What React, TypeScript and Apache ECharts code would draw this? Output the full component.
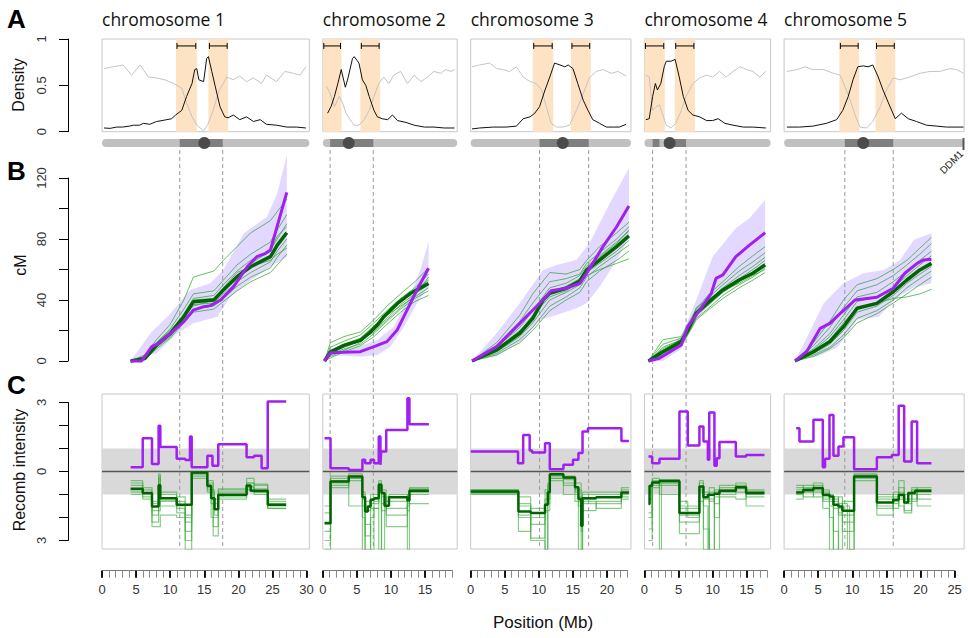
import React, { useEffect, useRef } from "react";
import * as echarts from "echarts";

// ---------- data ----------
const chromosomeNames = ["chromosome 1", "chromosome 2", "chromosome 3", "chromosome 4", "chromosome 5"];
const chromosomeLengthMb = [30.4, 19.7, 23.5, 18.5, 26.4];
const positionAxisMaxMb = [30, 19, 23, 18, 25];

// A: density along each chromosome (black = pericentromeric feature, grey = complementary)
const densityHigh = [
  [[0.3,0.04],[1.2,0.036],[2.15,0.05],[3.0,0.05],[4.0,0.06],[4.6,0.07],[5.5,0.07],[6.06,0.09],[7.0,0.08],[8.0,0.11],[8.8,0.12],[9.5,0.13],[10.2,0.14],[10.8,0.18],[11.7,0.23],[12.4,0.38],[13.2,0.52],[13.6,0.67],[13.9,0.68],[14.2,0.56],[14.9,0.54],[15.35,0.79],[15.6,0.81],[16.1,0.65],[16.6,0.49],[17.3,0.27],[18.0,0.16],[18.5,0.15],[19.25,0.18],[20.2,0.13],[21.2,0.16],[22.2,0.11],[23.2,0.13],[24.1,0.08],[25.6,0.07],[27.1,0.05],[28.5,0.05],[29.9,0.04]],
  [[0.7,0.2],[1.2,0.27],[1.7,0.38],[2.2,0.52],[2.7,0.67],[3.3,0.48],[3.7,0.58],[4.35,0.79],[4.6,0.81],[5.0,0.77],[5.3,0.74],[5.8,0.56],[6.3,0.5],[6.8,0.38],[7.5,0.23],[8.0,0.16],[8.7,0.14],[9.5,0.13],[10.2,0.18],[10.95,0.12],[12.2,0.1],[13.4,0.07],[14.9,0.05],[16.3,0.05],[17.8,0.04],[19.3,0.04]],
  [[0.2,0.03],[1.3,0.04],[3.3,0.05],[5.2,0.05],[6.7,0.06],[7.7,0.14],[8.7,0.16],[9.4,0.2],[10.1,0.27],[10.9,0.45],[11.6,0.59],[12.3,0.74],[13.1,0.72],[13.8,0.7],[14.3,0.72],[15.0,0.68],[15.7,0.52],[16.5,0.34],[17.2,0.23],[17.9,0.13],[18.9,0.09],[19.9,0.05],[20.9,0.05],[21.8,0.05],[22.8,0.08]],
  [[0.2,0.13],[0.7,0.14],[1.2,0.38],[1.6,0.52],[1.9,0.45],[2.4,0.52],[2.9,0.7],[3.2,0.76],[3.9,0.76],[4.5,0.78],[5.1,0.59],[5.7,0.38],[6.4,0.23],[7.1,0.18],[8.1,0.16],[9.1,0.12],[10.0,0.12],[10.8,0.14],[11.8,0.09],[13.0,0.07],[14.5,0.05],[15.9,0.05],[17.8,0.04]],
  [[0.4,0.05],[2.3,0.05],[4.2,0.06],[6.2,0.09],[7.7,0.13],[8.6,0.23],[9.4,0.38],[10.1,0.56],[10.8,0.7],[11.6,0.71],[12.3,0.7],[13.0,0.72],[13.8,0.59],[14.5,0.45],[15.3,0.31],[16.3,0.14],[17.2,0.2],[18.2,0.14],[19.4,0.11],[20.9,0.07],[22.4,0.06],[23.8,0.05],[26.3,0.05]],
];
const densityLow = [
  [[0.3,0.68],[1.6,0.7],[3.1,0.72],[4.35,0.61],[5.6,0.72],[6.8,0.59],[8.0,0.58],[9.2,0.56],[10.5,0.52],[11.7,0.47],[12.4,0.31],[13.2,0.16],[13.9,0.07],[14.9,0.01],[15.6,0.09],[16.3,0.23],[17.1,0.43],[18.3,0.59],[19.25,0.56],[20.2,0.6],[21.2,0.54],[22.2,0.58],[23.4,0.52],[24.1,0.61],[25.6,0.54],[26.8,0.65],[28.1,0.63],[29.0,0.61],[29.9,0.7]],
  [[0.5,0.49],[1.0,0.43],[1.7,0.27],[2.4,0.38],[2.9,0.31],[3.4,0.2],[4.0,0.13],[4.6,0.07],[5.3,0.07],[6.06,0.13],[6.8,0.23],[7.5,0.38],[8.2,0.52],[8.9,0.59],[9.7,0.52],[10.4,0.61],[11.4,0.65],[12.4,0.52],[13.4,0.61],[14.4,0.54],[15.35,0.59],[16.3,0.65],[17.3,0.63],[18.0,0.67],[18.8,0.65],[19.3,0.67]],
  [[0.2,0.7],[1.3,0.72],[2.8,0.74],[3.8,0.68],[4.7,0.67],[5.7,0.65],[6.7,0.7],[7.7,0.59],[8.7,0.54],[9.6,0.52],[10.4,0.45],[11.1,0.27],[11.8,0.09],[12.6,0.05],[13.5,0.05],[14.5,0.07],[15.5,0.23],[16.5,0.41],[17.4,0.58],[18.4,0.65],[19.4,0.67],[20.6,0.63],[21.6,0.65],[22.8,0.6]],
  [[0.2,0.61],[0.7,0.59],[1.2,0.23],[1.7,0.27],[2.2,0.29],[2.7,0.18],[3.2,0.07],[3.9,0.04],[4.6,0.09],[5.4,0.23],[6.1,0.38],[7.1,0.52],[8.1,0.58],[9.1,0.61],[10.0,0.59],[11.0,0.65],[12.0,0.59],[13.0,0.65],[14.0,0.7],[15.0,0.67],[15.9,0.65],[16.9,0.59],[17.8,0.65]],
  [[0.4,0.65],[1.9,0.67],[3.1,0.7],[4.2,0.67],[5.8,0.67],[7.2,0.63],[8.2,0.61],[8.9,0.49],[9.7,0.34],[10.4,0.18],[11.1,0.05],[12.1,0.04],[13.0,0.11],[14.1,0.27],[15.0,0.45],[16.0,0.58],[17.0,0.56],[18.4,0.59],[19.9,0.63],[21.4,0.65],[22.8,0.65],[24.3,0.68],[25.3,0.67],[26.3,0.63]],
];
// transition intervals flanking each pericentromere (Mb)
const borderIntervals = [
  [[10.85,13.9],[15.6,18.5]],
  [[0,2.74],[5.5,8.4]],
  [[9.1,12.1],[14.7,17.6]],
  [[0,2.98],[4.44,7.4]],
  [[8.1,11.0],[13.4,16.3]],
];
// ideogram: pericentromeric blocks and centromere position (Mb)
const pericentromere = [
  [[11.4,17.7]],
  [[1.07,7.4]],
  [[10.1,17.3]],
  [[1.2,2.2],[2.9,6.1]],
  [[8.9,16.0]],
];
const centromere = [15.0, 3.8, 13.5, 3.7, 11.6];
const ddm1Position = 26.3; // chromosome 5

// B: genetic map (cM) against physical position (Mb)
const purpleMap = [
  [[4.2,0],[5.8,0],[7.3,9.4],[8.3,11.6],[10,18],[12,25.8],[13.4,33.4],[14.9,35.6],[15.9,36.3],[17.4,40],[19.3,48.7],[21.3,61.8],[22.7,68.4],[24,70.6],[24.7,72.8],[27.1,110.6]],
  [[0.25,0],[1.1,5.4],[3.1,5.7],[5.5,6.1],[7.5,9.4],[9.4,12.7],[10.9,20.3],[12.6,35.6],[13.8,46.6],[15.5,60.8]],
  [[0.2,0],[3.8,9.4],[7.2,24.7],[8.65,31.3],[10.6,40],[11.8,46.1],[14.0,47.7],[16.0,50.9],[17.0,57.5],[19.4,75],[21.4,88],[23.2,101.6]],
  [[0.6,0],[2.2,1.8],[5.4,10.5],[6.35,22.5],[8.1,33.4],[9.8,44.4],[10.5,54.2],[11.5,56.4],[13.4,68.4],[15.4,76],[17.7,84.1]],
  [[1.6,0],[3.3,6.1],[5.3,21.4],[6.7,24.7],[8.0,30.2],[10.4,40],[13.6,41.8],[16.0,47.7],[17.7,57.5],[19.5,64],[20.4,66.2],[21.6,66.7]],
];
const greenMean = [
  [[4.2,0],[6.3,1.7],[8.0,10.5],[10,18],[12,29],[13.4,38.9],[16.4,40],[17.8,46.6],[19.8,55.3],[21.8,61.8],[24.7,68.4],[25.7,76],[27.1,84.1]],
  [[0.25,0],[1.1,5.9],[3.1,10.2],[5.5,13.5],[6.7,17.9],[7.95,23.4],[8.9,28.8],[10.9,37.6],[12.8,44.2],[15.5,50.8]],
  [[0.2,0],[3.8,7.2],[7.2,18.2],[9.1,28],[10.6,40],[11.6,44.4],[14.0,47.7],[16.0,52.5],[17.0,59.5],[18.9,66.2],[21.4,75],[23.2,82]],
  [[0.6,0],[2.7,6.1],[5.4,12.7],[6.35,20],[7.6,31.3],[9.5,38.9],[11.5,46.6],[13.9,53.1],[15.9,57.5],[17.7,63]],
  [[1.6,0],[4.3,6.1],[6.7,12.7],[8.7,22.5],[10.7,34.6],[13.6,37.8],[16.0,45.4],[18.0,53.1],[19.9,59.7],[21.6,64]],
];
const bandUpper = [
  [[4.2,0],[7.1,18],[10,31],[12.9,46.5],[15.9,51],[17.8,59.7],[20.8,83.7],[24.2,94.6],[25.7,110],[27.1,135]],
  [[0.25,0],[1.1,7],[3.1,8],[5.5,10],[8.0,13.8],[10.4,22.5],[12.9,44.4],[14.3,59.7],[15.5,78.2]],
  [[0.2,0],[3.8,18.2],[7.2,37.8],[10.6,59.7],[12.6,63],[15.5,66.2],[17.4,77.2],[20.4,103.4],[23.2,126.4]],
  [[0.6,0],[2.7,5],[5.4,16],[7.6,40],[10.0,68.4],[13.4,87],[15.4,93.6],[17.7,105.6]],
  [[1.6,0],[3.3,15],[5.8,37.8],[8.7,51],[11.6,57.5],[14.6,59.7],[17.0,66.2],[19.0,79.3],[21.6,83.7]],
];
const bandLower = [
  [[4.2,0],[8,5],[11,18],[13.4,24.7],[16.9,29],[18.8,42],[21.8,53],[24.7,61.8],[27.1,68.4]],
  [[0.25,0],[1.1,3.5],[3.1,3.5],[5.5,2.8],[8.0,3.9],[9.9,9.4],[11.9,22.5],[13.8,37.8],[15.5,48.7]],
  [[0.2,0],[3.8,3],[7.7,13.8],[10.1,26.9],[12.6,30.2],[15.5,34.6],[17,37.8],[18.9,48.7],[21.4,66],[23.2,81]],
  [[0.6,0],[2.7,0],[5.4,8],[7.6,27],[10.0,40],[12.7,48.5],[14.9,56.4],[17.7,62]],
  [[1.6,0],[4.8,3],[7.8,8.9],[10.7,27],[13.9,29],[16.3,41],[19.0,48],[21.6,51]],
];
// individual maps: shared marker positions (Mb) and cM per map
const lineMarkersMb = [
  [4.2, 6.3, 8.0, 10.0, 12.0, 13.4, 16.4, 17.8, 19.8, 21.8, 24.7, 25.7, 27.1],
  [0.25, 1.1, 3.1, 5.5, 7.5, 9.4, 11.4, 13.5, 15.5],
  [0.2, 3.8, 7.2, 9.1, 11.6, 14.0, 16.0, 17.0, 18.9, 21.4, 23.2],
  [0.6, 2.7, 5.4, 6.35, 7.6, 9.5, 11.5, 13.9, 15.9, 17.7],
  [1.6, 4.3, 6.7, 8.7, 10.7, 13.6, 16.0, 18.0, 19.9, 21.6],
];
const lineMapsCm = [
  [
    [0,4,14,24,40,55,59,66,75,84,92,98,106],
    [0,3,12,21,34,44,46,53,63,70,78,86,96],
    [0,2,11,19,31,41,43,50,59,66,73,80,90],
    [0,1,10,17,28,37,38,44,52,58,65,72,80],
    [0,2,9,16,26,34,36,41,49,55,61,68,76],
    [0,1,8,15,25,32,34,39,46,52,58,63,70],
    [0,3,12,20,30,40,41,47,56,64,72,82,88],
    [0,2,10,18,30,36,40,48,58,62,66,70,74],
  ],
  [
    [0,12,16,19,27,36,44,52,61],
    [0,9,13,17,25,33,41,48,57],
    [0,7,11,15,23,31,40,46,53],
    [0,5,9,13,20,28,37,44,50],
    [0,4,8,11,18,26,34,41,46],
    [0,2,6,10,16,24,32,39,43],
    [0,3,7,12,21,30,36,42,48],
    [0,6,10,14,19,27,35,43,55],
  ],
  [
    [0,12,30,44,58,57,60,66,75,84,91],
    [0,10,26,38,52,54,57,64,71,80,88],
    [0,9,22,33,48,51,56,62,69,78,85],
    [0,6,16,25,40,45,50,58,64,72,79],
    [0,5,14,22,36,42,48,55,62,70,76],
    [0,4,12,20,33,40,45,52,59,66,72],
    [0,7,19,30,42,46,52,56,60,64,67],
    [0,8,20,27,45,49,54,61,68,77,86],
  ],
  [
    [0,14,16,24,34,44,52,62,69,75],
    [0,11,15,22,33,42,50,59,65,71],
    [0,9,14,21,32,40,48,56,62,68],
    [0,7,12,19,30,37,45,52,58,64],
    [0,5,11,18,28,35,43,50,55,61],
    [0,3,10,17,27,34,41,48,53,58],
    [0,8,14,20,31,39,47,54,60,66],
    [0,4,12,20,35,41,46,51,56,60],
  ],
  [
    [0,12,26,40,50,54,60,66,74,81],
    [0,10,22,35,46,50,56,63,70,77],
    [0,8,18,30,42,45,52,59,66,72],
    [0,5,11,20,32,36,43,51,57,62],
    [0,4,9,17,28,33,40,48,54,59],
    [0,3,8,15,25,31,38,44,50,55],
    [0,6,14,25,35,38,41,42,44,47],
    [0,7,16,27,39,42,48,56,63,69],
  ],
];

// C: recombination intensity steps [start Mb, value]; last entry closes the final step
const recPurple = [
  [[4.2,0.19],[5.97,1.45],[7.33,0.33],[8.3,1.99],[8.55,1.06],[10.95,0.55],[12.2,0.5],[12.9,1.52],[13.15,0.19],[15.45,0.68],[16.2,0.25],[17.05,1.19],[21.2,0.62],[22.3,0.68],[23.4,0.14],[24.3,3.04],[27.0,3.04]],
  [[0.25,1.45],[1.13,0.14],[3.8,0.07],[5.8,0.51],[6.2,0.36],[7.0,0.51],[7.5,0.36],[8.2,1.52],[8.45,0.29],[8.55,0.87],[9.3,1.81],[12.4,3.19],[12.7,2.06],[15.55,2.06]],
  [[0.0,0.87],[6.94,0.36],[7.7,1.59],[8.65,0.91],[9.0,0.83],[10.9,1.23],[11.6,0.1],[13.6,0.29],[15.0,0.51],[15.8,0.8],[16.4,1.74],[17.2,1.88],[22.1,1.33],[23.2,1.33]],
  [[0.59,0.65],[1.13,0.36],[2.2,0.55],[5.13,2.61],[6.35,1.13],[8.06,1.96],[8.65,1.3],[9.3,0.51],[9.5,2.57],[10.26,0.25],[10.6,0.58],[11.0,1.28],[13.4,0.65],[14.9,0.72],[17.6,0.72]],
  [[1.76,1.88],[2.25,1.3],[4.3,2.25],[5.67,0.19],[6.0,0.55],[6.65,2.46],[7.23,0.68],[7.97,1.09],[8.7,1.49],[10.26,0.1],[13.6,0.62],[15.8,0.72],[16.8,2.86],[17.6,0.43],[18.7,2.17],[19.5,0.36],[21.6,0.36]],
];
const recGreenMean = [
  [[4.2,0.75],[5.97,0.94],[7.33,1.52],[8.3,0.6],[8.55,1.16],[10.95,1.45],[13.15,0.04],[15.45,0.62],[16.0,1.16],[16.5,1.64],[17.05,1.01],[21.2,0.61],[21.8,0.84],[24.3,1.45],[27.0,1.45]],
  [[0.25,2.25],[1.13,0.43],[3.8,0.22],[5.8,1.12],[6.2,1.74],[6.6,1.52],[7.0,1.23],[7.5,1.16],[8.2,0.58],[8.6,0.94],[9.05,1.49],[9.7,1.12],[12.4,1.26],[12.7,0.84],[15.55,0.84]],
  [[0,0.87],[7.0,1.74],[8.8,1.81],[10.9,1.45],[11.3,0.9],[11.6,0.12],[13.6,0.26],[15.3,0.68],[15.8,1.2],[16.2,2.36],[16.4,1.16],[18.4,1.12],[22.1,0.91],[23.2,0.91]],
  [[0.59,1.41],[0.75,0.62],[1.13,0.48],[2.2,0.41],[5.13,1.81],[8.06,0.65],[8.65,1.12],[9.3,1.01],[10.26,0.97],[11.0,0.84],[13.4,0.68],[14.9,0.94],[17.6,0.94]],
  [[1.76,0.91],[2.8,0.8],[4.3,0.72],[5.67,1.01],[6.65,1.09],[7.23,1.45],[7.97,1.52],[8.55,1.71],[10.26,0.22],[13.6,1.35],[16.0,1.23],[16.8,1.01],[17.6,1.35],[18.2,0.94],[19.2,0.84],[21.6,0.84]],
];
const recGreenMaps = [
  [
    [[4.2,0.5],[5.97,0.7],[7.33,1.9],[8.3,0.1],[8.55,1.0],[10.95,1.3],[12.2,3.4],[13.15,0.1],[15.45,0.5],[16.3,2.8],[17.05,0.8],[21.2,0.3],[22.3,0.6],[24.3,1.3],[27.0,1.3]],
    [[4.2,0.9],[5.97,1.0],[7.33,2.4],[8.55,1.9],[10.95,2.0],[12.2,2.6],[13.15,0.2],[15.45,0.9],[16.5,1.9],[17.05,1.1],[21.2,0.8],[22.3,0.9],[24.3,1.6],[27.0,1.6]],
    [[4.2,0.6],[5.97,1.2],[7.33,1.3],[8.3,0.3],[8.55,1.5],[10.95,1.6],[12.2,1.9],[13.15,0.0],[15.45,0.7],[16.0,1.4],[17.05,0.9],[21.2,0.5],[22.3,0.75],[24.3,1.2],[27.0,1.2]],
    [[4.2,1.0],[5.97,1.1],[7.33,1.7],[8.55,1.3],[10.95,1.8],[12.2,2.2],[13.15,0.3],[15.45,0.8],[16.5,1.2],[17.05,1.2],[21.2,0.7],[22.3,1.0],[24.3,1.6],[27.0,1.6]],
    [[4.2,0.4],[5.97,0.8],[7.33,2.2],[8.3,0.2],[8.55,0.9],[10.95,1.1],[12.2,3.0],[13.15,0.1],[15.45,0.4],[16.3,2.4],[17.05,0.75],[21.2,0.5],[22.3,0.55],[24.3,1.4],[27.0,1.4]],
    [[4.2,0.8],[5.97,0.95],[7.33,1.4],[8.55,1.25],[10.95,1.5],[12.2,2.0],[13.15,0.05],[15.45,0.6],[16.0,2.0],[17.05,1.0],[21.2,0.65],[22.3,0.9],[24.3,1.5],[27.0,1.5]],
  ],
  [
    [[0.25,3.4],[1.13,0.3],[3.8,0.2],[5.8,3.4],[6.2,1.5],[7.0,1.6],[8.2,3.4],[8.6,1.0],[9.3,1.6],[12.4,1.2],[12.7,0.8],[15.55,0.8]],
    [[0.25,2.6],[1.13,0.5],[3.8,0.3],[5.8,1.5],[6.2,2.3],[7.0,3.4],[7.5,1.3],[8.2,0.7],[8.6,1.4],[9.3,1.9],[12.4,1.5],[12.7,0.9],[15.55,0.9]],
    [[0.25,1.8],[1.13,0.6],[3.8,0.1],[5.8,1.0],[6.2,1.7],[7.0,1.2],[8.2,0.5],[8.6,3.4],[9.05,1.3],[9.7,1.0],[12.4,3.4],[12.7,0.75],[15.55,0.75]],
    [[0.25,3.0],[1.13,0.4],[3.8,1.5],[5.8,1.2],[6.2,2.8],[7.0,1.4],[8.2,0.8],[8.6,1.1],[9.3,2.4],[12.4,1.4],[12.7,1.4],[15.55,1.4]],
    [[0.25,2.2],[1.13,0.2],[3.8,0.3],[5.8,2.0],[6.2,3.4],[7.0,2.0],[7.5,1.6],[8.2,0.4],[8.6,1.7],[9.3,1.1],[12.4,1.7],[12.7,1.0],[15.55,1.0]],
    [[0.25,1.5],[1.13,0.7],[3.8,0.4],[5.8,0.9],[6.2,1.3],[7.0,1.0],[8.2,0.6],[8.6,0.8],[9.3,1.3],[12.4,1.0],[12.7,0.7],[15.55,0.7]],
  ],
  [
    [[0,0.8],[7.0,1.4],[8.8,2.9],[10.9,1.2],[11.6,0.1],[13.6,0.3],[15.3,0.9],[15.8,3.4],[16.4,1.0],[18.4,1.0],[22.1,0.8],[23.2,0.8]],
    [[0,0.95],[7.0,2.0],[8.8,1.6],[10.9,3.4],[11.3,0.5],[11.6,0.3],[13.6,0.5],[15.3,1.0],[15.8,1.5],[16.4,1.4],[18.4,1.3],[22.1,1.1],[23.2,1.1]],
    [[0,0.85],[7.0,1.1],[8.8,2.3],[10.9,1.7],[11.6,0.2],[13.6,0.2],[15.3,0.5],[16.2,3.4],[16.4,0.9],[18.4,0.9],[22.1,1.2],[23.2,1.2]],
    [[0,0.9],[7.0,2.6],[8.8,2.0],[10.9,0.8],[11.6,0.4],[13.6,1.0],[15.3,1.3],[16.4,1.7],[18.4,1.4],[22.1,0.7],[23.2,0.7]],
    [[0,0.8],[7.0,1.5],[8.8,1.8],[10.9,1.4],[11.6,0.15],[13.6,0.35],[15.3,0.7],[15.8,1.1],[16.4,1.2],[18.4,1.1],[22.1,0.95],[23.2,0.95]],
    [[0,1.0],[7.0,1.9],[8.8,3.0],[10.9,3.4],[11.3,0.6],[11.6,0.3],[13.6,0.6],[15.3,0.8],[16.2,2.6],[16.4,1.3],[18.4,1.6],[22.1,1.0],[23.2,1.0]],
  ],
  [
    [[0.59,2.5],[1.13,0.3],[2.2,3.4],[2.5,0.5],[5.13,1.6],[8.06,0.7],[8.65,3.4],[9.5,0.9],[10.26,3.4],[11.0,0.8],[13.4,0.6],[14.9,0.9],[17.6,0.9]],
    [[0.59,1.8],[1.13,0.6],[2.2,0.4],[5.13,2.7],[8.06,0.4],[8.65,1.5],[9.3,3.4],[9.5,1.2],[10.26,1.1],[11.0,1.0],[13.4,0.75],[14.9,1.5],[17.6,1.5]],
    [[0.59,3.0],[1.13,0.5],[2.2,0.6],[5.13,1.3],[6.35,2.0],[8.06,1.3],[8.65,1.0],[9.5,0.7],[10.26,1.4],[11.0,0.7],[13.4,0.9],[14.9,1.0],[17.6,1.0]],
    [[0.59,1.2],[1.13,0.4],[2.2,0.35],[5.13,2.2],[8.06,0.9],[8.65,2.5],[9.5,3.4],[10.26,0.9],[11.0,0.9],[13.4,0.5],[14.9,0.8],[17.6,0.8]],
    [[0.59,2.0],[1.13,0.7],[2.2,0.5],[5.13,1.9],[8.06,0.5],[8.65,1.2],[9.5,1.0],[10.26,2.0],[11.0,1.1],[13.4,1.2],[14.9,0.85],[17.6,0.85]],
    [[0.59,0.9],[1.13,0.45],[2.2,1.0],[5.13,1.5],[8.06,0.8],[8.65,0.9],[9.5,1.3],[10.26,0.8],[11.0,0.6],[13.4,0.7],[14.9,1.1],[17.6,1.1]],
  ],
  [
    [[1.76,0.6],[2.8,0.7],[4.3,0.5],[5.67,1.3],[6.65,3.4],[7.23,1.2],[7.97,1.8],[8.55,2.2],[10.26,0.4],[13.6,1.9],[16.0,1.1],[16.8,0.4],[17.6,1.4],[18.7,0.8],[19.5,1.5],[21.6,1.5]],
    [[1.76,1.2],[2.8,0.9],[4.3,1.1],[5.67,0.8],[6.65,1.5],[7.23,2.6],[7.97,3.4],[8.55,1.4],[9.28,3.4],[10.26,0.2],[13.6,1.1],[16.0,1.6],[16.8,0.9],[17.6,1.8],[18.7,1.3],[19.5,0.7],[21.6,0.7]],
    [[1.76,0.8],[2.8,0.6],[4.3,0.9],[5.67,1.2],[6.65,1.0],[7.23,1.3],[7.97,1.4],[8.55,1.9],[10.26,0.3],[13.6,1.5],[16.0,1.4],[16.8,1.2],[17.6,1.0],[18.7,1.2],[19.5,1.0],[21.6,1.0]],
    [[1.76,1.0],[2.8,1.1],[4.3,0.7],[5.67,1.6],[6.65,2.0],[7.23,3.4],[7.97,1.1],[8.55,2.6],[10.26,0.1],[13.6,1.0],[16.0,0.9],[16.8,1.5],[17.6,1.7],[18.7,1.0],[19.5,0.8],[21.6,0.8]],
    [[1.76,0.7],[2.8,0.75],[4.3,0.6],[5.67,0.9],[6.65,1.2],[7.23,1.1],[7.97,1.6],[8.55,1.5],[9.6,3.4],[10.26,0.25],[13.6,1.2],[16.0,1.3],[16.8,0.7],[17.6,1.2],[18.7,0.9],[19.5,0.9],[21.6,0.9]],
    [[1.76,0.9],[2.8,0.85],[4.3,0.8],[5.67,1.1],[6.65,1.3],[7.23,1.6],[7.97,1.9],[8.55,1.3],[10.26,0.15],[13.6,1.6],[16.0,1.0],[16.8,1.1],[17.6,1.3],[18.7,0.7],[19.5,1.2],[21.6,1.2]],
  ],
];

const densityTicks = [0, 0.5, 1];
const cmTicks = [0, 40, 80, 120];
const recTicks = [-3, 0, 3];

// ---------- layout & style ----------
const MB_PX = 6.82;
const PANEL_GAP = 13.5;
const FIRST_LEFT = 102;
const AXIS_X = 68;
const SANS = '"Liberation Sans", Arial, sans-serif';
const TITLE_FONT = '"Open Sans", "Liberation Sans", sans-serif';
const PURPLE = "#A020F0";
const DARKGREEN = "#006400";

const panelLeft: number[] = [];
chromosomeLengthMb.reduce((x, len, i) => {
  panelLeft[i] = x;
  return x + len * MB_PX + PANEL_GAP;
}, FIRST_LEFT);

function buildOption() {
  const grid: any[] = [];
  const xAxis: any[] = [];
  const yAxis: any[] = [];
  const series: any[] = [];
  const graphic: any[] = [];

  const addGrid = (g: any, xa: any, ya: any) => {
    const gi = grid.length;
    grid.push({ containLabel: false, outerBoundsMode: "none", ...g });
    const xi = xAxis.length;
    xAxis.push({ type: "value", gridIndex: gi, splitLine: { show: false }, ...xa });
    const yi = yAxis.length;
    yAxis.push({ type: "value", gridIndex: gi, splitLine: { show: false }, ...ya });
    return { gi, xi, yi };
  };

  const leftAxis = (top: number, height: number, min: number, max: number, interval: number, labelled: number[], fmt: (v: number) => string) =>
    addGrid(
      { left: AXIS_X, top, width: 10, height },
      { show: false, min: 0, max: 1 },
      {
        min, max, interval, position: "left",
        axisLine: { show: true, onZero: false, lineStyle: { color: "#000", width: 1 } },
        axisTick: { show: true, length: 9, lineStyle: { color: "#000", width: 1 } },
        axisLabel: {
          show: true, rotate: 90, margin: 20, fontSize: 13, color: "#333", fontFamily: SANS,
          formatter: (v: number) => (labelled.some((t) => Math.abs(t - v) < 1e-9) ? fmt(v) : ""),
        },
      }
    );
  leftAxis(39, 92.7, 0, 1, 0.5, densityTicks, (v) => String(v));
  leftAxis(178, 183, 0, 120, 20, cmTicks, (v) => String(v));
  leftAxis(402.5, 138, -3, 3, 1, recTicks, (v) => String(Math.abs(v)));

  chromosomeLengthMb.forEach((len, c) => {
    const left = panelLeft[c];
    const width = len * MB_PX;
    const xr = { show: false, min: 0, max: len };

    graphic.push({
      type: "text", x: left, y: 18.5, silent: true,
      style: { text: chromosomeNames[c], fontSize: 17.5, fontFamily: TITLE_FONT, fill: "#111", textAlign: "left", textVerticalAlign: "middle" },
    });

    // ---- A: density panel ----
    const a = addGrid({ left, top: 39, width, height: 92.7, show: true, borderColor: "#c8c8c8", borderWidth: 1 }, xr, { show: false, min: 0, max: 1 });
    series.push({
      type: "custom", xAxisIndex: a.xi, yAxisIndex: a.yi, data: [[0, 0]], silent: true, z: 1,
      renderItem: (_p: any, api: any) => {
        const children: any[] = [];
        borderIntervals[c].forEach(([s, e]) => {
          const p0 = api.coord([s, 1]);
          const p1 = api.coord([e, 0]);
          children.push({ type: "rect", shape: { x: p0[0], y: p0[1], width: p1[0] - p0[0], height: p1[1] - p0[1] }, style: { fill: "#FDE3C3" } });
        });
        borderIntervals[c].forEach(([s, e]) => {
          const l = api.coord([s, 0.925]);
          const r = api.coord([e, 0.925]);
          const st = { stroke: "#000", lineWidth: 1 };
          children.push({ type: "line", shape: { x1: l[0] + 1, y1: l[1], x2: r[0] - 1, y2: r[1] }, style: st });
          children.push({ type: "line", shape: { x1: l[0] + 1, y1: l[1] - 3, x2: l[0] + 1, y2: l[1] + 3 }, style: st });
          children.push({ type: "line", shape: { x1: r[0] - 1, y1: r[1] - 3, x2: r[0] - 1, y2: r[1] + 3 }, style: st });
        });
        return { type: "group", children };
      },
    });
    series.push({ type: "line", xAxisIndex: a.xi, yAxisIndex: a.yi, data: densityLow[c], symbol: "none", silent: true, z: 3, lineStyle: { color: "#c4c4c4", width: 1 } });
    series.push({ type: "line", xAxisIndex: a.xi, yAxisIndex: a.yi, data: densityHigh[c], symbol: "none", silent: true, z: 4, lineStyle: { color: "#111", width: 1 } });

    // ---- ideogram ----
    const id = addGrid({ left, top: 139, width, height: 8 }, xr, { show: false, min: 0, max: 1 });
    series.push({
      type: "custom", xAxisIndex: id.xi, yAxisIndex: id.yi, data: [[0, 0]], silent: true, z: 5,
      renderItem: (_p: any, api: any) => {
        const s = api.coord([0, 1]);
        const e = api.coord([len, 0]);
        const h = e[1] - s[1];
        const children: any[] = [
          { type: "rect", shape: { x: s[0], y: s[1], width: e[0] - s[0], height: h, r: h / 2 }, style: { fill: "#c0c0c0" } },
        ];
        pericentromere[c].forEach(([a0, a1]) => {
          const p0 = api.coord([a0, 1]);
          const p1 = api.coord([a1, 0]);
          children.push({ type: "rect", shape: { x: p0[0], y: p0[1], width: p1[0] - p0[0], height: p1[1] - p0[1] }, style: { fill: "#7f7f7f" } });
        });
        const cm = api.coord([centromere[c], 0.5]);
        children.push({ type: "circle", shape: { cx: cm[0], cy: cm[1], r: 6 }, style: { fill: "#4b4b4b" } });
        if (c === 4) {
          const d0 = api.coord([ddm1Position, 1]);
          children.push({ type: "line", shape: { x1: d0[0], y1: d0[1] - 1, x2: d0[0], y2: d0[1] + 11 }, style: { stroke: "#555", lineWidth: 2 } });
          children.push({
            type: "text", x: d0[0] - 2, y: d0[1] + 13, rotation: Math.PI / 4,
            style: { text: "DDM1", fontSize: 10, fontFamily: SANS, fill: "#222", textAlign: "right", textVerticalAlign: "middle" },
          });
        }
        return { type: "group", children };
      },
    });

    // ---- dashed pericentromere boundaries through B and C ----
    const dg = addGrid({ left, top: 150, width, height: 399 }, xr, { show: false, min: 0, max: 1 });
    const blocks = pericentromere[c];
    const bounds = [blocks[0][0], blocks[blocks.length - 1][1]];
    series.push({
      type: "custom", xAxisIndex: dg.xi, yAxisIndex: dg.yi, data: [[0, 0]], silent: true, z: 2,
      renderItem: (_p: any, api: any) => ({
        type: "group",
        children: bounds.map((b) => {
          const t = api.coord([b, 1]);
          const u = api.coord([b, 0]);
          return { type: "line", shape: { x1: t[0], y1: t[1], x2: u[0], y2: u[1] }, style: { stroke: "#9a9a9a", lineWidth: 1, lineDash: [4, 3] } };
        }),
      }),
    });

    // ---- B: genetic map ----
    const b = addGrid({ left, top: 150.5, width, height: 210.5 }, xr, { show: false, min: 0, max: 138 });
    series.push({
      type: "custom", xAxisIndex: b.xi, yAxisIndex: b.yi, data: [[0, 0]], silent: true, z: 1,
      renderItem: (_p: any, api: any) => {
        const pts = bandUpper[c].map((p) => api.coord(p)).concat(bandLower[c].slice().reverse().map((p) => api.coord(p)));
        return { type: "polygon", shape: { points: pts }, style: { fill: "#E3D8FF" } };
      },
    });
    lineMapsCm[c].forEach((vals) => {
      series.push({
        type: "line", xAxisIndex: b.xi, yAxisIndex: b.yi, symbol: "none", silent: true, z: 3, clip: false,
        data: lineMarkersMb[c].map((x, k) => [x, vals[k]]),
        lineStyle: { color: "rgba(45,165,45,0.72)", width: 1 },
      });
    });
    series.push({ type: "line", xAxisIndex: b.xi, yAxisIndex: b.yi, data: greenMean[c], symbol: "none", silent: true, z: 4, clip: false, lineStyle: { color: DARKGREEN, width: 3.5 } });
    series.push({ type: "line", xAxisIndex: b.xi, yAxisIndex: b.yi, data: purpleMap[c], symbol: "none", silent: true, z: 5, clip: false, lineStyle: { color: PURPLE, width: 3 } });

    // ---- C: recombination intensity ----
    const r = addGrid({ left, top: 394, width, height: 155, show: true, borderColor: "#c8c8c8", borderWidth: 1 }, xr, { show: false, min: -3.37, max: 3.37 });
    series.push({
      type: "custom", xAxisIndex: r.xi, yAxisIndex: r.yi, data: [[0, 0]], silent: true, z: 1,
      renderItem: (_p: any, api: any) => {
        const t = api.coord([0, 1]);
        const u = api.coord([len, -1]);
        const z0 = api.coord([0, 0]);
        const z1 = api.coord([len, 0]);
        return {
          type: "group",
          children: [
            { type: "rect", shape: { x: t[0], y: t[1], width: u[0] - t[0], height: u[1] - t[1] }, style: { fill: "#d9d9d9" } },
            { type: "line", shape: { x1: z0[0], y1: z0[1], x2: z1[0], y2: z1[1] }, style: { stroke: "#555", lineWidth: 1.5 } },
          ],
        };
      },
    });
    recGreenMaps[c].forEach((steps) => {
      series.push({
        type: "line", step: "end", xAxisIndex: r.xi, yAxisIndex: r.yi, symbol: "none", silent: true, z: 3, clip: true,
        data: steps.map(([x, v]) => [x, -v]),
        lineStyle: { color: "rgba(60,170,60,0.6)", width: 1.2 },
      });
    });
    series.push({
      type: "line", step: "end", xAxisIndex: r.xi, yAxisIndex: r.yi, symbol: "none", silent: true, z: 4, clip: true,
      data: recGreenMean[c].map(([x, v]) => [x, -v]), lineStyle: { color: DARKGREEN, width: 2.5 },
    });
    series.push({
      type: "line", step: "end", xAxisIndex: r.xi, yAxisIndex: r.yi, symbol: "none", silent: true, z: 5, clip: true,
      data: recPurple[c], lineStyle: { color: PURPLE, width: 2.5 },
    });

    // ---- position axis ----
    const amax = positionAxisMaxMb[c];
    const minor: number[] = [];
    for (let v = 0; v <= amax; v++) minor.push(v);
    const major = minor.filter((v) => v % 5 === 0);
    const ax = addGrid(
      { left, top: 560, width: amax * MB_PX, height: 10.7 },
      {
        min: 0, max: amax, position: "bottom",
        axisLine: { show: true, onZero: false, lineStyle: { color: "#777", width: 1 } },
        axisTick: { show: true, customValues: minor, length: 7, lineStyle: { color: "#8a8a8a", width: 1 } },
        axisLabel: { show: false },
      },
      { show: false, min: 0, max: 1 }
    );
    xAxis.push({
      type: "value", gridIndex: ax.gi, min: 0, max: amax, position: "bottom", splitLine: { show: false },
      axisLine: { show: false, onZero: false },
      axisTick: { show: true, customValues: major, length: 7, lineStyle: { color: "#000", width: 1.8 } },
      axisLabel: { show: true, customValues: major, margin: 12, fontSize: 13, color: "#333", fontFamily: SANS },
    });
  });

  // panel letters and axis titles
  [["A", 19], ["B", 171], ["C", 385]].forEach(([t, y]) => {
    graphic.push({ type: "text", x: 7, y, silent: true, style: { text: t, fontSize: 26, fontWeight: "bold", fontFamily: SANS, fill: "#000", textAlign: "left", textVerticalAlign: "middle" } });
  });
  [["Density", 18, 85], ["cM", 20, 265], ["Recomb intensity", 19, 470]].forEach(([t, x, y]) => {
    graphic.push({ type: "text", x, y, rotation: Math.PI / 2, silent: true, style: { text: t, fontSize: 16, fontFamily: SANS, fill: "#111", textAlign: "center", textVerticalAlign: "middle" } });
  });
  graphic.push({ type: "text", x: 543, y: 622, silent: true, style: { text: "Position (Mb)", fontSize: 17, fontFamily: SANS, fill: "#111", textAlign: "center", textVerticalAlign: "middle" } });

  return { animation: false, backgroundColor: "#fff", grid, xAxis, yAxis, series, graphic };
}

export default function App() {
  const ref = useRef<HTMLDivElement>(null);
  useEffect(() => {
    const chart = echarts.init(ref.current!, undefined, { renderer: "svg" });
    chart.setOption(buildOption());
    return () => chart.dispose();
  }, []);
  return <div ref={ref} style={{ position: "fixed", left: 0, top: 0, width: 968, height: 638, background: "#fff" }} />;
}
